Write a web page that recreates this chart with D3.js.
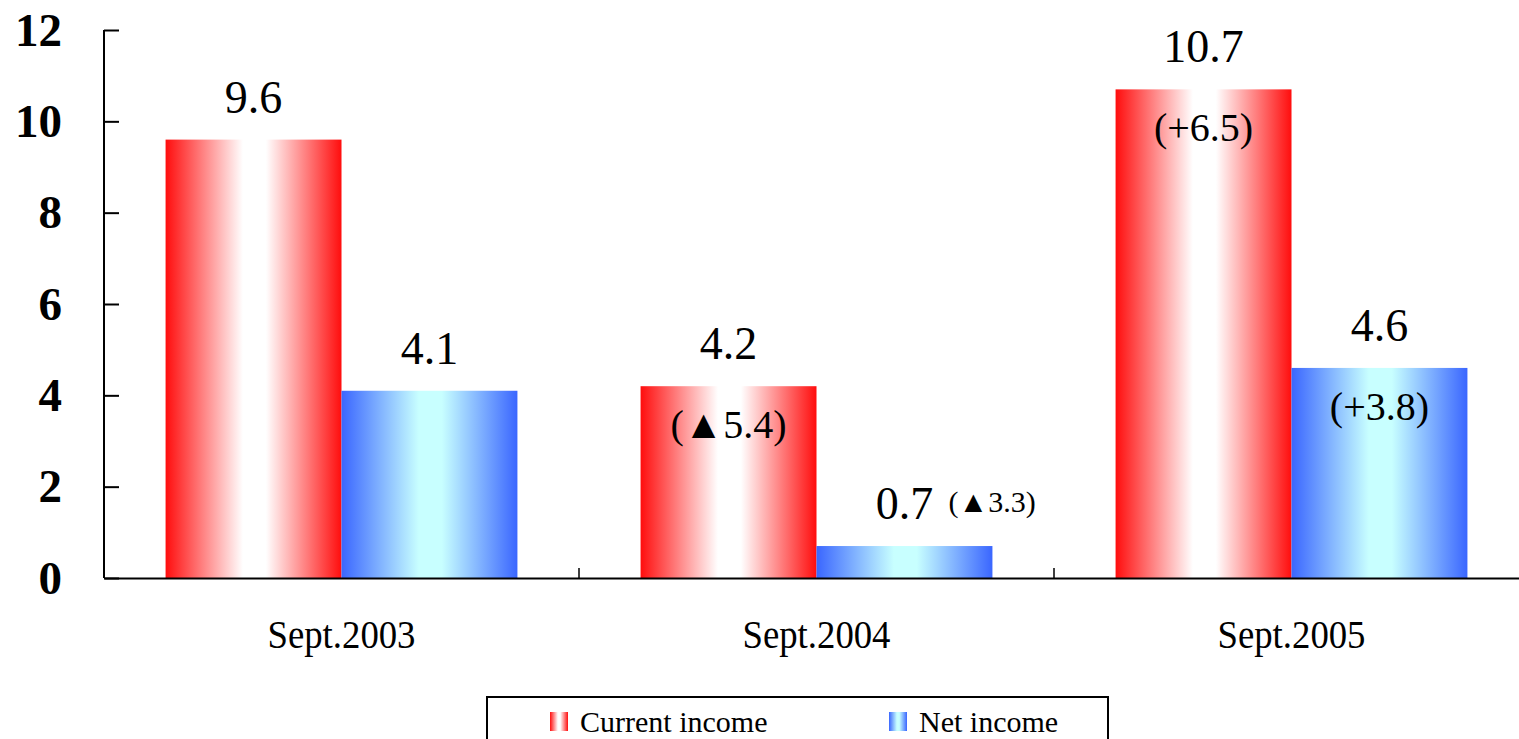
<!DOCTYPE html>
<html>
<head>
<meta charset="utf-8">
<script src="https://cdn.jsdelivr.net/npm/d3@7"></script>
<style>
  body { margin: 0; background: #fff; }
  svg { display: block; font-family: "Liberation Serif", "Times New Roman", serif; }
</style>
</head>
<body>
<script>
// * Data
const categories = ["Sept.2003", "Sept.2004", "Sept.2005"];
const series = ["Current income", "Net income"];
const currentIncome = [9.6, 4.2, 10.7];
const netIncome = [4.1, 0.7, 4.6];
// change vs. previous year (▲ = decrease)
const currentChange = [null, "▲5.4", "+6.5"];
const netChange = [null, "▲3.3", "+3.8"];
const yTicks = [0, 2, 4, 6, 8, 10, 12];

// * Size & Margins
const width = 1519;
const height = 739;
const marginLeft = 104;
const axisBottomY = 578;
const axisTopY = 30;

const svg = d3
	.select("body")
	.append("svg")
	.attr("width", width)
	.attr("height", height);

// * Gradients (edge -> light centre -> edge)
const defs = svg.append("defs");
function addGradient(id, edge, mid) {
	const g = defs
		.append("linearGradient")
		.attr("id", id)
		.attr("x1", "0%")
		.attr("x2", "100%")
		.attr("y1", "0%")
		.attr("y2", "0%");
	g.append("stop").attr("offset", "0%").attr("stop-color", edge);
	g.append("stop").attr("offset", "44%").attr("stop-color", mid);
	g.append("stop").attr("offset", "57%").attr("stop-color", mid);
	g.append("stop").attr("offset", "100%").attr("stop-color", edge);
}
addGradient("grad-red", "#ff0d0d", "#ffffff");
addGradient("grad-blue", "#3a66ff", "#c8ffff");
const fills = { "Current income": "url(#grad-red)", "Net income": "url(#grad-blue)" };

// * Scales
const x = d3
	.scaleBand()
	.domain(categories)
	.range([marginLeft, marginLeft + 475 * categories.length])
	.padding(0);

const xSub = d3
	.scaleBand()
	.domain(series)
	.range([0, x.bandwidth()])
	.paddingInner(0)
	.paddingOuter(0.35);

const y = d3.scaleLinear().domain([0, 12]).range([axisBottomY, axisTopY]);

// * Table
const rows = categories.map((c, i) => ({
	category: c,
	values: [
		{ key: series[0], value: currentIncome[i], change: currentChange[i] },
		{ key: series[1], value: netIncome[i], change: netChange[i] },
	],
}));

// * Bars
const groups = svg
	.selectAll("g.group")
	.data(rows)
	.join("g")
	.attr("class", "group")
	.attr("transform", (d) => `translate(${x(d.category)},0)`);

groups
	.selectAll("rect")
	.data((d) => d.values)
	.join("rect")
	.attr("x", (d) => xSub(d.key))
	.attr("y", (d) => y(d.value))
	.attr("width", xSub.bandwidth())
	.attr("height", (d) => y(0) - y(d.value))
	.attr("fill", (d) => fills[d.key]);

// value labels
groups
	.selectAll("text.val")
	.data((d) => d.values)
	.join("text")
	.attr("class", "val")
	.attr("x", (d) => xSub(d.key) + xSub.bandwidth() / 2)
	.attr("y", (d) => y(d.value) - 27)
	.attr("text-anchor", "middle")
	.attr("font-size", 46)
	.attr("fill", "#000")
	.text((d) => d.value.toFixed(1));

// change labels: inside the bar, or next to the value when the bar is short
groups
	.selectAll("text.chg")
	.data((d) => d.values.filter((v) => v.change))
	.join("text")
	.attr("class", "chg")
	.each(function (d) {
		const cx = xSub(d.key) + xSub.bandwidth() / 2;
		const t = d3.select(this).attr("fill", "#000");
		if (y(0) - y(d.value) < 80) {
			t.attr("x", cx + 44)
				.attr("y", y(d.value) - 34)
				.attr("font-size", 30)
				.attr("text-anchor", "start");
		} else {
			t.attr("x", cx)
				.attr("y", y(d.value) + 52)
				.attr("font-size", 40)
				.attr("text-anchor", "middle");
		}
		t.text(`(${d.change})`);
	});

// * Axes
const yAxis = svg
	.append("g")
	.attr("transform", `translate(${marginLeft},0)`)
	.call(d3.axisLeft(y).tickValues(yTicks).tickSize(-15).tickPadding(42));
yAxis.select(".domain").attr("stroke", "#000").attr("stroke-width", 2).attr("d", `M0,${axisTopY}V${axisBottomY}`);
yAxis.selectAll(".tick line").attr("stroke", "#000").attr("stroke-width", 2);
yAxis
	.selectAll(".tick text")
	.attr("font-family", "Liberation Serif")
	.attr("font-size", 47)
	.attr("font-weight", "bold")
	.attr("fill", "#000");

const xAxis = svg
	.append("g")
	.attr("transform", `translate(0,${axisBottomY})`)
	.call(d3.axisBottom(x).tickSize(0));
xAxis.select(".domain").attr("stroke", "#000").attr("stroke-width", 2);
xAxis
	.selectAll(".tick text")
	.attr("y", 70)
	.attr("dy", 0)
	.attr("font-family", "Liberation Serif")
	.attr("font-size", 40)
	.attr("textLength", 148)
	.attr("lengthAdjust", "spacingAndGlyphs")
	.attr("fill", "#000");

// category boundary ticks
svg.append("g")
	.selectAll("line")
	.data(categories.slice(1))
	.join("line")
	.attr("x1", (d) => x(d))
	.attr("x2", (d) => x(d))
	.attr("y1", axisBottomY)
	.attr("y2", axisBottomY - 10)
	.attr("stroke", "#000")
	.attr("stroke-width", 1.5);

// * Legend
const legend = svg.append("g").attr("transform", "translate(487,697)");
legend
	.append("rect")
	.attr("width", 621)
	.attr("height", 60)
	.attr("fill", "#fff")
	.attr("stroke", "#000")
	.attr("stroke-width", 2);

const legendOffsets = [63, 402];
const items = legend
	.selectAll("g.item")
	.data(series)
	.join("g")
	.attr("class", "item")
	.attr("transform", (d, i) => `translate(${legendOffsets[i]},0)`);

items
	.append("rect")
	.attr("y", 15)
	.attr("width", 18)
	.attr("height", 19)
	.attr("fill", (d) => fills[d]);

items
	.append("text")
	.attr("x", 30)
	.attr("y", 35)
	.attr("font-size", 30)
	.attr("fill", "#000")
	.text((d) => d);
</script>
</body>
</html>
